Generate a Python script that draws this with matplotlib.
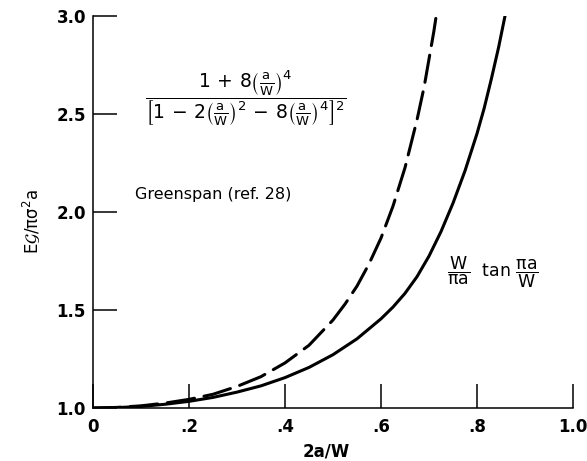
import numpy as np
import matplotlib
matplotlib.use("Agg")
import matplotlib.pyplot as plt

# values (x = 2a/W)
tan_x = [0.0, 0.05, 0.1, 0.15, 0.2, 0.25, 0.3, 0.35, 0.4, 0.45, 0.5, 0.55, 0.6, 0.625, 0.65,
         0.675, 0.7, 0.725, 0.75, 0.775, 0.8, 0.815, 0.83, 0.845, 0.86]
tan_y = [1.0, 1.002, 1.008, 1.019, 1.034, 1.054, 1.081, 1.113, 1.155, 1.207, 1.272, 1.353, 1.455, 1.515, 1.585,
         1.67, 1.775, 1.90, 2.045, 2.21, 2.40, 2.53, 2.68, 2.84, 3.02]

green_x = [0.0, 0.05, 0.1, 0.15, 0.2, 0.25, 0.3, 0.35, 0.4, 0.45, 0.5, 0.525, 0.55, 0.575, 0.6,
           0.625, 0.65, 0.675, 0.69, 0.7, 0.71, 0.72]
green_y = [1.0, 1.003, 1.011, 1.025, 1.044, 1.07, 1.11, 1.16, 1.23, 1.32, 1.449, 1.53, 1.622, 1.735, 1.867,
           2.03, 2.226, 2.47, 2.64, 2.78, 2.92, 3.08]

xticks = [0, 0.2, 0.4, 0.6, 0.8, 1.0]
xlabels = ["0", ".2", ".4", ".6", ".8", "1.0"]
yticks = [1.0, 1.5, 2.0, 2.5, 3.0]
ylabels = ["1.0", "1.5", "2.0", "2.5", "3.0"]

plt.rcParams['font.family'] = ['DejaVu Sans']
plt.rcParams['mathtext.fontset'] = 'dejavusans'
plt.rcParams['mathtext.default'] = 'regular'

fig = plt.figure(figsize=(5.87, 4.61), dpi=100)
ax = fig.add_axes([93/587, 1 - 408/461, 480/587, 392/461])

ax.plot(tan_x, tan_y, color='black', lw=2.2, solid_capstyle='round', solid_joinstyle='round')
ax.plot(green_x, green_y, color='black', lw=2.2, dashes=(9, 3.2), dash_capstyle='round')

ax.set_xlim(0, 1.0)
ax.set_ylim(1.0, 3.0)
ax.set_xticks(xticks)
ax.set_xticklabels(xlabels)
ax.set_yticks(yticks)
ax.set_yticklabels(ylabels)
ax.spines['top'].set_visible(False)
ax.spines['right'].set_visible(False)
for s in ['left', 'bottom']:
    ax.spines[s].set_linewidth(1.1)
ax.tick_params(direction='in', length=17, width=1.1, labelsize=12)
ax.tick_params(axis='x', pad=7)
ax.tick_params(axis='y', pad=5)
for lab in ax.get_xticklabels() + ax.get_yticklabels():
    lab.set_fontweight('bold')

# annotations
ax.text(0.319, 2.58,
        r'$\dfrac{1\,+\,8\left(\frac{a}{W}\right)^4}{\left[1\,-\,2\left(\frac{a}{W}\right)^2\,-\,8\left(\frac{a}{W}\right)^4\right]^2}$',
        ha='center', va='center', fontsize=13.5)
ax.text(0.087, 2.087, "Greenspan (ref. 28)", ha='left', va='center', fontsize=11.5)
ax.text(0.737, 1.69, r'$\dfrac{W}{\pi a}\ \ tan\ \dfrac{\pi a}{W}$',
        ha='left', va='center', fontsize=12.5)

fig.text(326/587, 1 - 451/461, "2a/W", ha='center', va='center', fontsize=12, fontweight='bold')
fig.text(32/587, 1 - 222/461, r'$E\mathcal{G}/\pi\sigma^2a$', ha='center', va='center',
         rotation=90, fontsize=12)

fig.savefig("out.png", dpi=100)
